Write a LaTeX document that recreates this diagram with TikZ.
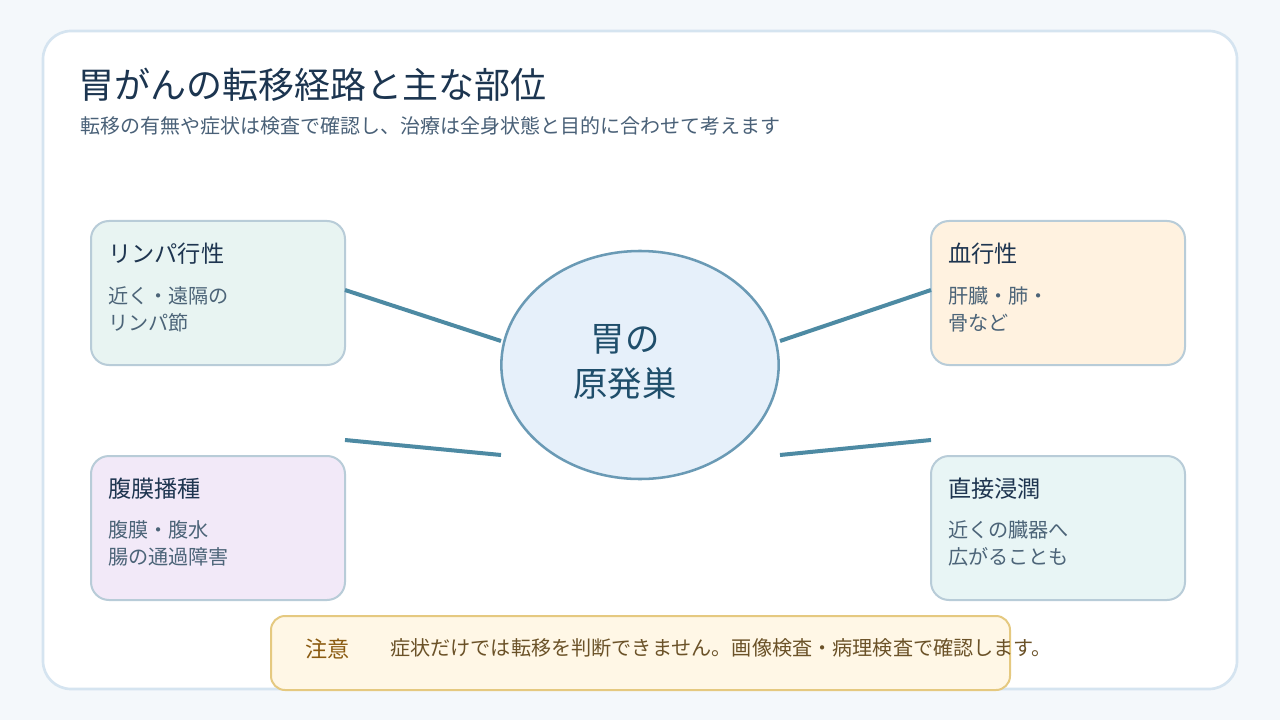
\documentclass[tikz,border=0pt]{standalone}
\usepackage{fontspec}
\setmainfont{Noto Sans CJK JP}
\usetikzlibrary{shapes.geometric}
\definecolor{bgc}{HTML}{F4F8FB}
\definecolor{cardline}{HTML}{D5E4F0}
\definecolor{titlec}{HTML}{1C3550}
\definecolor{subc}{HTML}{4A6178}
\definecolor{headc}{HTML}{1E3550}
\definecolor{bodyc}{HTML}{4C6478}
\definecolor{boxline}{HTML}{B8CCD8}
\definecolor{fillA}{HTML}{E8F4F2}
\definecolor{fillB}{HTML}{FFF2E0}
\definecolor{fillC}{HTML}{F2E9F8}
\definecolor{fillD}{HTML}{E8F5F5}
\definecolor{ellfill}{HTML}{E6F0FA}
\definecolor{ellline}{HTML}{6A9AB5}
\definecolor{centc}{HTML}{1F4E6B}
\definecolor{linkc}{HTML}{4D8AA3}
\definecolor{notefill}{HTML}{FFF7E6}
\definecolor{noteline}{HTML}{E5C980}
\definecolor{notehead}{HTML}{8A5A10}
\definecolor{notetext}{HTML}{6B5228}
\tikzset{
  routebox/.style={draw=boxline, line width=1.5pt, rounded corners=13.5pt},
  headtext/.style={anchor=west, inner sep=0pt, text=headc, font=\fontsize{17.4}{20}\selectfont},
  bodytext/.style={anchor=west, inner sep=0pt, text=bodyc, align=left, font=\fontsize{15.1}{20.25}\selectfont},
  link/.style={draw=linkc, line width=3pt},
}
\begin{document}
\begin{tikzpicture}[x=0.75pt,y=-0.75pt]
\useasboundingbox (0,0) rectangle (1280,720);
\fill[bgc] (0,0) rectangle (1280,720);
\draw[fill=white, draw=cardline, line width=2pt, rounded corners=21pt] (43,31) rectangle (1237,689);
% title
\node[anchor=west, inner sep=0pt, text=titlec, font=\fontsize{27}{30}\selectfont] (title) at (78,85) {胃がんの転移経路と主な部位};
\node[anchor=west, inner sep=0pt, text=subc, font=\fontsize{15}{18}\selectfont] (sub) at (80,126) {転移の有無や症状は検査で確認し、治療は全身状態と目的に合わせて考えます};
% boxes
\draw[routebox, fill=fillA] (91,221) rectangle (345,365);
\draw[routebox, fill=fillB] (931,221) rectangle (1185,365);
\draw[routebox, fill=fillC] (91,456) rectangle (345,600);
\draw[routebox, fill=fillD] (931,456) rectangle (1185,600);
\node[headtext] (h1) at (108,254) {リンパ行性};
\node[bodytext] (b1) at (108,309.5) {近く・遠隔の\\リンパ節};
\node[headtext] (h2) at (948,254) {血行性};
\node[bodytext] (b2) at (948,309.5) {肝臓・肺・\\骨など};
\node[headtext] (h3) at (108,489) {腹膜播種};
\node[bodytext] (b3) at (108,543.5) {腹膜・腹水\\腸の通過障害};
\node[headtext] (h4) at (948,489) {直接浸潤};
\node[bodytext] (b4) at (948,543.5) {近くの臓器へ\\広がることも};
% connector end points
\coordinate (l1) at (345,290);
\coordinate (l2) at (345,440);
\coordinate (r1) at (931,290);
\coordinate (r2) at (931,440);
\coordinate (e1) at (501,341);
\coordinate (e2) at (501,455);
\coordinate (e3) at (780,341);
\coordinate (e4) at (780,455);
\draw[link] (l1) -- (e1);
\draw[link] (l2) -- (e2);
\draw[link] (e3) -- (r1);
\draw[link] (e4) -- (r2);
% ellipse
\node[ellipse, draw=ellline, line width=1.9pt, fill=ellfill, minimum width=208pt, minimum height=171pt, inner sep=0pt] (core) at (640,365) {};
\node[text=centc, align=center, inner sep=0pt, font=\fontsize{25.8}{33.75}\selectfont] (coretext) at (625,362) {胃の\\原発巣};
% note
\draw[fill=notefill, draw=noteline, line width=1.5pt, rounded corners=10.5pt] (271,616) rectangle (1010,690);
\node[anchor=west, inner sep=0pt, text=notehead, font=\fontsize{16.6}{20}\selectfont] (nh) at (305,649) {注意};
\node[anchor=west, inner sep=0pt, text=notetext, font=\fontsize{15.1}{18}\selectfont] (nt) at (390,648) {症状だけでは転移を判断できません。画像検査・病理検査で確認します。};
\end{tikzpicture}
\end{document}
